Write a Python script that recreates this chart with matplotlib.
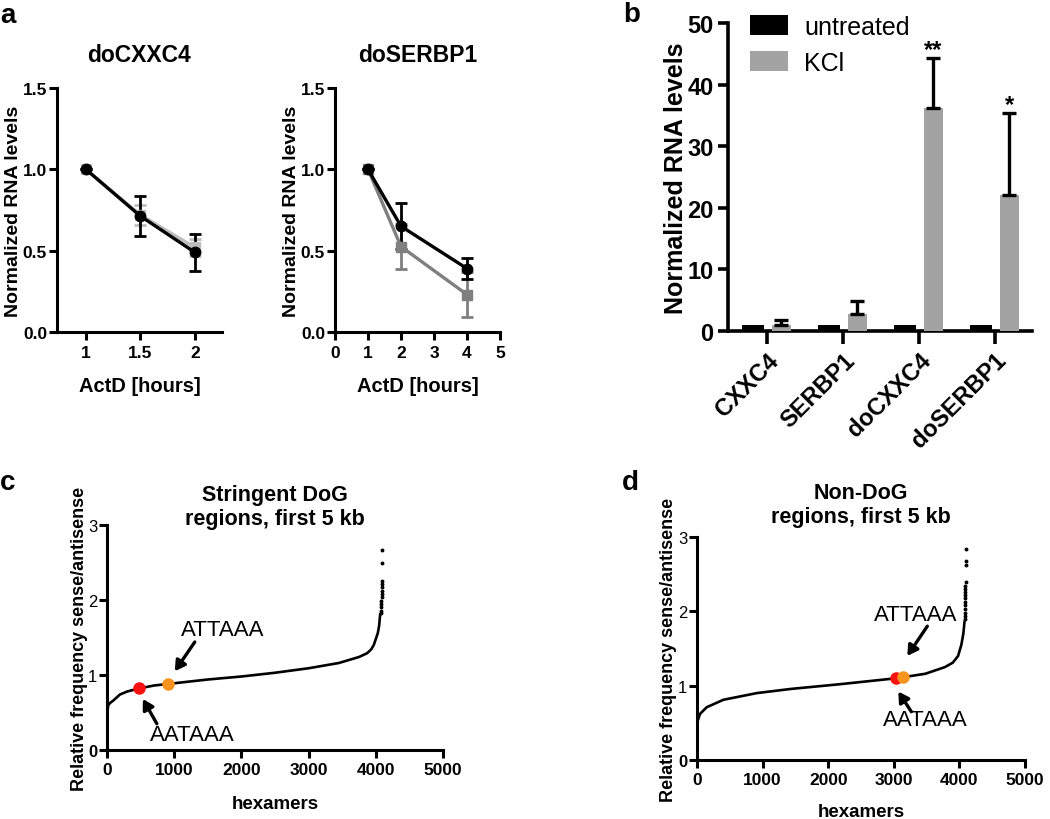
import matplotlib
matplotlib.use('Agg')
import matplotlib.pyplot as plt
import numpy as np

plt.rcParams['font.family'] = ['Liberation Sans', 'DejaVu Sans']

# ---------------- data ----------------
# panel a, doCXXC4
cxxc4_hours = [1, 1.5, 2]
cxxc4_untreated = [1.0, 0.713, 0.49]
cxxc4_untreated_err = [0.0, 0.125, 0.113]
cxxc4_kcl = [1.0, 0.72, 0.52]
cxxc4_kcl_err = [0.0, 0.06, 0.05]

# panel a, doSERBP1
serbp1_hours = [1, 2, 4]
serbp1_untreated = [1.0, 0.65, 0.39]
serbp1_untreated_err = [0.0, 0.14, 0.065]
serbp1_kcl = [1.0, 0.525, 0.23]
serbp1_kcl_err = [0.0, 0.14, 0.14]

# panel b
genes = ['CXXC4', 'SERBP1', 'doCXXC4', 'doSERBP1']
untreated_levels = [1.0, 1.0, 1.0, 1.0]
kcl_levels = [0.9, 2.8, 36.2, 22.0]
kcl_err = [0.9, 2.1, 8.1, 13.4]
significance = ['', '', '**', '*']

# panel c (stringent DoG) sorted hexamer ratios
dog_rank = [0, 5, 20, 50, 94, 193, 300, 475, 700, 905, 1200, 1500, 2000, 2500,
            3000, 3450, 3750, 3870, 3930, 3970, 4000, 4030, 4050, 4065]
dog_ratio = [0.45, 0.52, 0.60, 0.63, 0.66, 0.74, 0.78, 0.82, 0.86, 0.88, 0.91, 0.94,
             0.98, 1.03, 1.09, 1.16, 1.24, 1.29, 1.34, 1.40, 1.48, 1.56, 1.66, 1.81]
dog_tail_rank = [4080, 4081, 4082, 4083, 4084, 4085, 4086, 4087, 4088, 4089, 4090, 4093, 4095]
dog_tail_ratio = [1.83, 1.86, 1.91, 1.95, 1.99, 2.04, 2.08, 2.12, 2.17, 2.21, 2.25, 2.49, 2.67]
dog_aataaa = (475, 0.83)
dog_attaaa = (905, 0.88)

# panel d (non-DoG)
nondog_rank = [0, 8, 46, 148, 402, 911, 1420, 2183, 3040, 3480, 3780, 3900, 3980,
               4030, 4060, 4078]
nondog_ratio = [0.42, 0.52, 0.62, 0.71, 0.81, 0.90, 0.955, 1.02, 1.10, 1.16, 1.25,
                1.31, 1.40, 1.55, 1.70, 1.86]
nondog_tail_rank = [4082, 4083, 4084, 4085, 4086, 4087, 4088, 4089, 4090, 4091, 4092,
                    4093, 4094, 4095, 4096]
nondog_tail_ratio = [1.90, 1.94, 1.98, 2.03, 2.08, 2.13, 2.18, 2.22, 2.26, 2.30, 2.34,
                     2.40, 2.62, 2.68, 2.84]
nondog_aataaa = (3040, 1.10)
nondog_attaaa = (3145, 1.12)

# ---------------- figure ----------------
W, H = 1050, 820
fig = plt.figure(figsize=(10.5, 8.2), dpi=100)


def px_axes(x0, y0, x1, y1):
    return fig.add_axes([x0 / W, 1 - y1 / H, (x1 - x0) / W, (y1 - y0) / H])


def style(ax, lw=2.2, tl=6):
    for s in ['top', 'right']:
        ax.spines[s].set_visible(False)
    for s in ['left', 'bottom']:
        ax.spines[s].set_linewidth(lw)
    ax.tick_params(width=lw, length=tl, direction='out')


# ---- panel a left
axA1 = px_axes(57, 89, 222, 333)
style(axA1)
axA1.errorbar(cxxc4_hours, cxxc4_kcl, yerr=cxxc4_kcl_err, color='#bdbdbd', marker='s',
              ms=6.5, lw=2.4, capsize=4.5, capthick=2, elinewidth=2)
axA1.errorbar(cxxc4_hours, cxxc4_untreated, yerr=cxxc4_untreated_err, color='black',
              marker='o', ms=7.5, lw=2.4, capsize=4.5, capthick=2, elinewidth=2)
axA1.set_xlim(0.735, 2.25)
axA1.set_ylim(0, 1.5)
axA1.set_xticks([1, 1.5, 2])
axA1.set_xticklabels(['1', '1.5', '2'])
axA1.set_yticks([0, 0.5, 1.0, 1.5])
axA1.set_yticklabels(['0.0', '0.5', '1.0', '1.5'])

# ---- panel a right
axA2 = px_axes(335, 89, 500, 333)
style(axA2)
axA2.errorbar(serbp1_hours, serbp1_kcl, yerr=serbp1_kcl_err, color='#7f7f7f', marker='s',
              ms=6.5, lw=2.4, capsize=4.5, capthick=2, elinewidth=2)
axA2.errorbar(serbp1_hours, serbp1_untreated, yerr=serbp1_untreated_err, color='black',
              marker='o', ms=7.5, lw=2.4, capsize=4.5, capthick=2, elinewidth=2)
axA2.set_xlim(0, 5)
axA2.set_ylim(0, 1.5)
axA2.set_xticks([0, 1, 2, 3, 4, 5])
axA2.set_yticks([0, 0.5, 1.0, 1.5])
axA2.set_yticklabels(['0.0', '0.5', '1.0', '1.5'])

for ax, title, lx in [(axA1, 'doCXXC4', -0.215), (axA2, 'doSERBP1', -0.215)]:
    ax.tick_params(axis='y', pad=1.2)
    for lab in ax.get_xticklabels() + ax.get_yticklabels():
        lab.set_fontweight('bold')
        lab.set_fontsize(12.5)
    ax.text(0.5, 1.11, title, transform=ax.transAxes, ha='center', va='baseline',
            fontsize=16.5, fontweight='bold')
    ax.set_ylabel('Normalized RNA levels', fontsize=14, fontweight='bold')
    ax.yaxis.set_label_coords(lx, 0.5)
    ax.set_xlabel('ActD [hours]', fontsize=14.5, fontweight='bold', va='top')
    ax.xaxis.set_label_coords(0.5, -0.18)

# ---- panel b
axB = px_axes(728, 24, 1032, 332)
style(axB, lw=2.6)
axB.tick_params(axis='y', length=7)
axB.tick_params(axis='x', length=9)
xb = np.arange(len(genes))
axB.bar(xb - 0.19, untreated_levels, 0.29, color='black', label='untreated', zorder=3)
axB.bar(xb + 0.19, kcl_levels, 0.25, color='#a3a3a3', label='KCl', zorder=3)
axB.errorbar(xb + 0.19, kcl_levels, yerr=[np.zeros(len(genes)), kcl_err], fmt='none',
             ecolor='black', elinewidth=2.4, capsize=5, capthick=2.4, zorder=4)
for xi, top, e, s in zip(xb, kcl_levels, kcl_err, significance):
    if s:
        axB.text(xi + 0.19, top + e - 0.5, s, ha='center', va='bottom', fontsize=17,
                 fontweight='bold')
axB.set_xlim(-0.513, 3.487)
axB.set_ylim(0, 50)
axB.set_yticks([0, 10, 20, 30, 40, 50])
axB.set_xticks(xb)
axB.set_xticklabels(genes, rotation=45, ha='right', va='top', rotation_mode='anchor')
for lab in axB.get_xticklabels() + axB.get_yticklabels():
    lab.set_fontweight('bold')
    lab.set_fontsize(17)
axB.set_ylabel('Normalized RNA levels', fontsize=18, fontweight='bold')
axB.yaxis.set_label_coords(-0.132, 0.5)
axB.legend(loc='upper left', bbox_to_anchor=(0.04, 1.06), frameon=False, fontsize=18,
           handlelength=1.5, handleheight=0.85, labelspacing=0.5, handletextpad=0.65,
           borderaxespad=0)


# ---- panels c and d
def curve_panel(box, rank, ratio, tail_rank, tail_ratio, aataaa, attaaa, title,
                title_y, ylx, xly, ann):
    ax = px_axes(*box)
    style(ax, lw=2.2, tl=5.5)
    ax.tick_params(axis='y', pad=1.5)
    ax.plot(rank, ratio, color='black', lw=1.9, zorder=3)
    ax.plot(tail_rank, tail_ratio, ls='none', marker='o', ms=1.8, color='black', zorder=3)
    ax.plot(*aataaa, marker='o', ms=8, color='#ff1010', zorder=4)
    ax.plot(*attaaa, marker='o', ms=8, color='#f7941d', zorder=4)
    ax.set_xlim(0, 5000)
    ax.set_ylim(0, 3)
    ax.set_xticks([0, 1000, 2000, 3000, 4000, 5000])
    ax.set_yticks([0, 1, 2, 3])
    for lab in ax.get_xticklabels():
        lab.set_fontweight('bold')
        lab.set_fontsize(12.5)
    for i, lab in enumerate(ax.get_yticklabels()):
        lab.set_fontsize(12)
        lab.set_fontweight('bold' if i == 0 else 'normal')
    ax.text(0.5, title_y, title, transform=ax.transAxes, ha='center', va='bottom',
            fontsize=15.5, fontweight='bold', linespacing=1.2)
    ax.set_ylabel('Relative frequency sense/antisense', fontsize=13, fontweight='bold')
    ax.yaxis.set_label_coords(ylx, 0.5)
    ax.set_xlabel('hexamers', fontsize=13.5, fontweight='bold', va='top')
    ax.xaxis.set_label_coords(0.5, xly)
    for label, txy, tail, head in ann:
        ax.text(*txy, label, ha='center', va='center', fontsize=16)
        ax.annotate('', xy=head, xytext=tail,
                    arrowprops=dict(arrowstyle='-|>,head_length=0.6,head_width=0.35',
                                    lw=2.4, color='black', shrinkA=0, shrinkB=0))
    return ax


curve_panel((107, 526, 443, 751), dog_rank, dog_ratio, dog_tail_rank, dog_tail_ratio,
            dog_aataaa, dog_attaaa, 'Stringent DoG\nregions, first 5 kb', 0.982,
            -0.058, -0.2,
            [('ATTAAA', (1721, 1.61), (1306, 1.44), (1009, 1.05)),
             ('AATAAA', (1276, 0.21), (742, 0.35), (534, 0.68))])

curve_panel((697, 538, 1025, 761), nondog_rank, nondog_ratio, nondog_tail_rank,
            nondog_tail_ratio, nondog_aataaa, nondog_attaaa,
            'Non-DoG\nregions, first 5 kb', 1.045, -0.062, -0.195,
            [('ATTAAA', (3328, 1.96), (3511, 1.80), (3206, 1.40)),
             ('AATAAA', (3481, 0.54), (3267, 0.65), (3069, 0.92))])

# panel letters
for txt, x, y in [('a', 0, 23), ('b', 623, 22), ('c', 0, 490), ('d', 622, 490)]:
    fig.text(x / W, 1 - y / H, txt, fontsize=20, fontweight='bold', va='baseline',
             ha='left')

fig.savefig('out.png', dpi=100)
